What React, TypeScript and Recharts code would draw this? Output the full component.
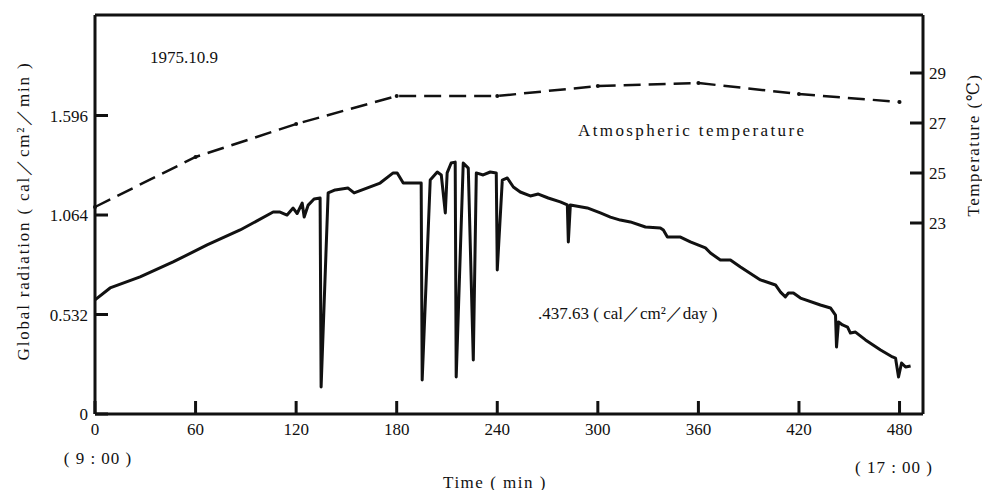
import { LineChart, Line, XAxis, YAxis, ReferenceLine } from "recharts";

// time axis (min after 9:00)
const timeTicks = [0, 60, 120, 180, 240, 300, 360, 420, 480];
const radTicks = [0, 0.532, 1.064, 1.596];
const tempTicks = [23, 25, 27, 29];

// atmospheric temperature (°C), read at the plotted dots
const tempTimes = [0, 60, 120, 180, 240, 300, 360, 420, 480];
const tempValues = [23.64, 25.64, 26.96, 28.08, 28.08, 28.48, 28.6, 28.16, 27.84];

// global radiation (cal/cm²/min)
const radTimes = [
  0, 9.0, 26.9, 46.6, 66.9, 86.6, 106.3, 110.4, 114.6, 118.2, 120.6, 123.6, 124.8, 127.2, 130.7, 134.3, 134.9,
  139.1, 143.3, 151.0, 154.6, 159.4, 170.1, 177.9, 180.3, 183.9, 194.6, 195.2, 200.0, 204.2, 206.6,
  209.0, 210.1, 212.5, 214.9, 215.5, 219.7, 222.7, 225.7, 227.5, 231.6, 235.8, 239.4, 240.0, 243.0,
  246.0, 249.6, 253.7, 259.7, 264.5, 270.4, 277.6, 281.8, 282.4, 283.6, 293.7, 301.5, 307.5, 313.4,
  319.4, 328.4, 337.3, 339.1, 341.5, 349.3, 355.2, 364.2, 367.2, 373.1, 379.1, 385.1, 397.0, 406.0,
  409.0, 411.9, 413.7, 416.7, 420.9, 432.8, 438.8, 441.8, 442.4, 443.6, 446.0, 449.0, 450.7, 453.7,
  459.7, 468.7, 475.8, 477.6, 479.4, 481.2, 483.6, 486.6,
];
const radValues = [
  0.61, 0.674, 0.733, 0.813, 0.904, 0.984, 1.08, 1.08, 1.064, 1.101, 1.072, 1.128, 1.053, 1.117, 1.15, 1.155, 0.144,
  1.182, 1.198, 1.208, 1.182, 1.198, 1.235, 1.289, 1.289, 1.235, 1.235, 0.182, 1.251, 1.294, 1.278,
  1.075, 1.289, 1.342, 1.347, 0.198, 1.342, 1.315, 0.289, 1.289, 1.278, 1.294, 1.289, 0.77, 1.251,
  1.262, 1.214, 1.187, 1.166, 1.176, 1.155, 1.134, 1.118, 0.92, 1.118, 1.102, 1.075, 1.053, 1.037,
  1.027, 1.0, 0.995, 0.984, 0.946, 0.946, 0.92, 0.888, 0.861, 0.823, 0.823, 0.786, 0.717, 0.69,
  0.652, 0.626, 0.647, 0.647, 0.62, 0.583, 0.567, 0.529, 0.358, 0.492, 0.476, 0.465, 0.433, 0.438,
  0.396, 0.342, 0.305, 0.299, 0.198, 0.273, 0.251, 0.257,
];

const tempData = tempTimes.map((t, i) => ({ t, temp: tempValues[i] }));
const radData = radTimes.map((t, i) => ({ t, rad: radValues[i] }));

const serif = '"Liberation Serif", "Times New Roman", Tinos, "DejaVu Serif", "Noto Serif", serif';
const ink = "#111";
const RAD_MAX = 2.1335;

const tickStyle = { fill: ink, fontSize: 17, fontFamily: serif };
const axisLine = { stroke: ink, strokeWidth: 3 };

const Txt: React.FC<{ x: number; y: number; rotate?: boolean; center?: boolean; spacing?: number; children: React.ReactNode }> = ({
  x,
  y,
  rotate,
  center,
  spacing = 0,
  children,
}) => (
  <div
    style={{
      position: "absolute",
      left: x,
      top: y,
      transform: `translate(${center || rotate ? "-50%" : "0"}, -50%)${rotate ? " rotate(-90deg)" : ""}`,
      whiteSpace: "nowrap",
      fontSize: 17,
      lineHeight: 1,
      letterSpacing: spacing,
      fontFamily: serif,
      color: ink,
    }}
  >
    {children}
  </div>
);

export default function App() {
  return (
    <div style={{ position: "absolute", left: 0, top: 0, width: 982, height: 490, background: "#fff", fontFamily: serif }}>
      <LineChart width={982} height={490} margin={{ top: 15, right: 9, bottom: 46, left: 35 }}>
        <XAxis
          type="number"
          dataKey="t"
          domain={[0, 494]}
          ticks={timeTicks}
          height={30}
          tickSize={-13}
          tickMargin={22}
          axisLine={axisLine}
          tickLine={axisLine}
          tick={tickStyle}
        />
        <YAxis
          yAxisId="rad"
          orientation="left"
          width={60}
          domain={[0, RAD_MAX]}
          ticks={radTicks}
          tickSize={-13}
          tickMargin={20}
          axisLine={axisLine}
          tickLine={axisLine}
          tick={tickStyle}
        />
        <YAxis
          yAxisId="temp"
          orientation="right"
          width={50}
          domain={[15.36, 31.32]}
          ticks={tempTicks}
          tickSize={-13}
          tickMargin={19}
          axisLine={axisLine}
          tickLine={axisLine}
          tick={tickStyle}
        />
        <ReferenceLine yAxisId="rad" y={RAD_MAX} stroke={ink} strokeWidth={3} />
        <Line
          yAxisId="temp"
          data={tempData}
          dataKey="temp"
          type="linear"
          stroke={ink}
          strokeWidth={2.5}
          strokeDasharray="17 8"
          dot={{ r: 2, fill: ink, stroke: "none" }}
          isAnimationActive={false}
        />
        <Line
          yAxisId="rad"
          data={radData}
          dataKey="rad"
          type="linear"
          stroke={ink}
          strokeWidth={3}
          strokeLinejoin="round"
          dot={false}
          isAnimationActive={false}
        />
      </LineChart>

      <Txt x={150} y={57}>1975.10.9</Txt>
      <Txt x={578} y={130} spacing={2.4}>Atmospheric temperature</Txt>
      <Txt x={538} y={313}>.437.63 ( cal／cm²／day )</Txt>
      <Txt x={23} y={211} rotate spacing={1.8}>Global radiation ( cal／cm²／min )</Txt>
      <Txt x={973} y={145} rotate spacing={1.5}>Temperature (℃)</Txt>
      <Txt x={98} y={458} center spacing={1}>( 9 : 00 )</Txt>
      <Txt x={894} y={467} center spacing={1}>( 17 : 00 )</Txt>
      <Txt x={495} y={482} center spacing={1.5}>Time ( min )</Txt>
    </div>
  );
}
